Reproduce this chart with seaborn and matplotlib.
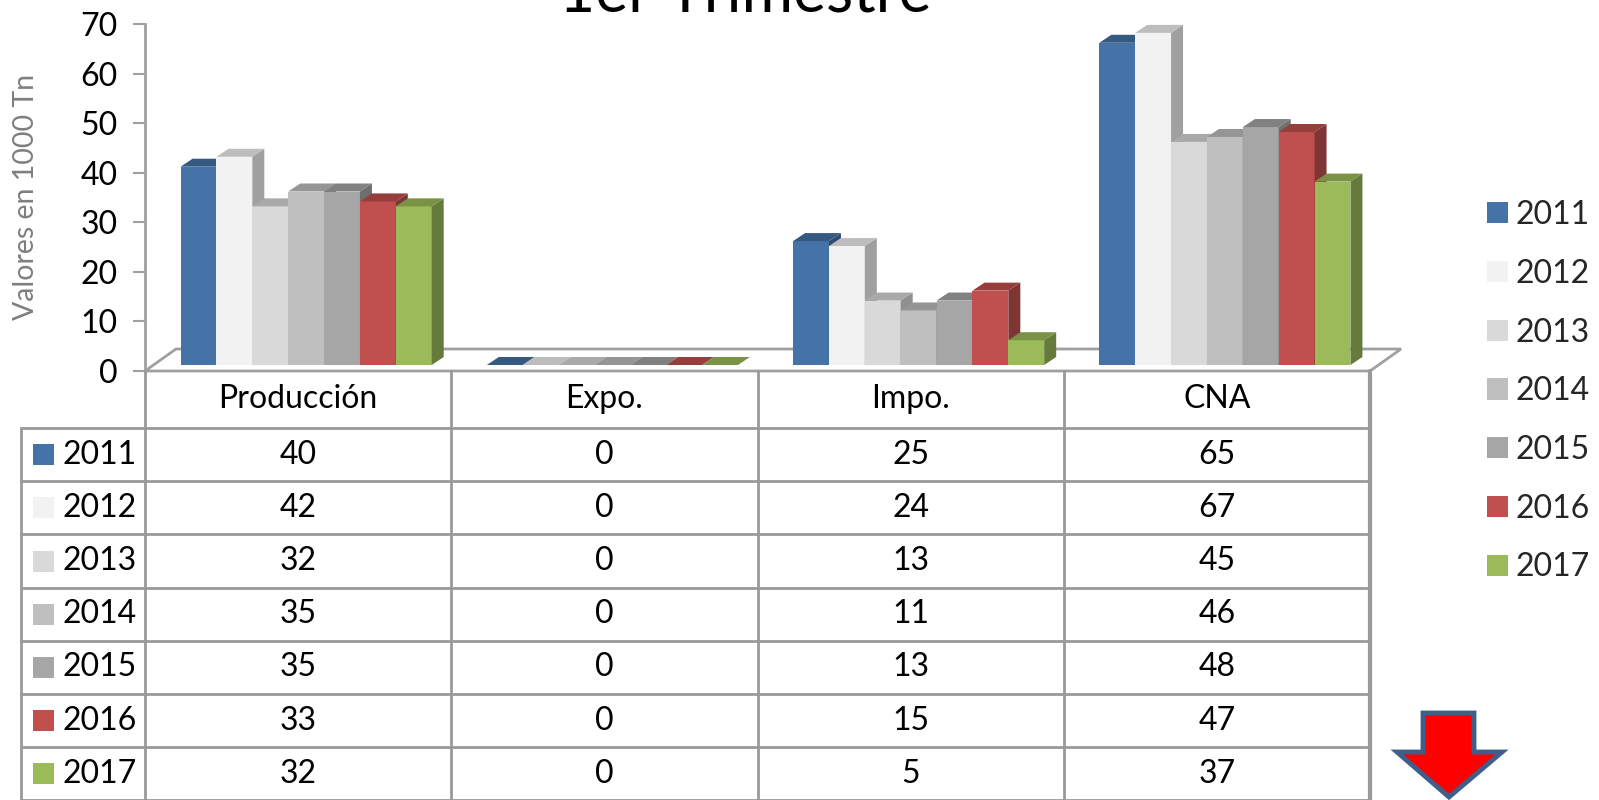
import numpy as np
import pandas as pd
import matplotlib
matplotlib.use("Agg")
import matplotlib.pyplot as plt
import seaborn as sns
from matplotlib.patches import Polygon, Rectangle, Patch
from matplotlib.lines import Line2D
from matplotlib.transforms import blended_transform_factory
import matplotlib.colors as mcolors

# ---------------- data ----------------
categories = ["Producción", "Expo.", "Impo.", "CNA"]
years = ["2011", "2012", "2013", "2014", "2015", "2016", "2017"]
v2011 = [40, 0, 25, 65]
v2012 = [42, 0, 24, 67]
v2013 = [32, 0, 13, 45]
v2014 = [35, 0, 11, 46]
v2015 = [35, 0, 13, 48]
v2016 = [33, 0, 15, 47]
v2017 = [32, 0, 5, 37]
series = [v2011, v2012, v2013, v2014, v2015, v2016, v2017]
colors = ["#4572A7", "#F2F2F2", "#D9D9D9", "#BFBFBF", "#A6A6A6", "#C0504D", "#9BBB59"]
yticks = [0, 10, 20, 30, 40, 50, 60, 70]
title = "1er Trimestre"
ylabel = "Valores en 1000 Tn"

df = pd.DataFrame({
    "Categoria": [c for s in series for c in categories],
    "Año": [y for y, s in zip(years, series) for _ in s],
    "Valor": [v for s in series for v in s],
})

# ---------------- figure ----------------
W, H = 1599, 800
sns.set_theme(style="white")
plt.rcParams['font.family'] = ['Lato', 'DejaVu Sans']
fig = plt.figure(figsize=(W / 100, H / 100), dpi=100)
fig.patch.set_facecolor("white")


def fx(p):
    return p / W


def fy(p):
    return 1 - p / H


X0, X1, Y0, Y70 = 145, 1370, 371, 24
ax = fig.add_axes([fx(X0), fy(Y0), (X1 - X0) / W, (Y0 - Y70) / H])
ax.set_facecolor("none")

sns.barplot(data=df, x="Categoria", y="Valor", hue="Año", order=categories,
            hue_order=years, palette=colors, width=0.82, saturation=1,
            ax=ax, legend=False, linewidth=0, edgecolor="none", errorbar=None)
ax.set_xlim(-0.5, 3.5)
ax.set_ylim(0, 70)

bars = sorted(list(ax.patches), key=lambda p: p.get_x())

# pixel -> data unit conversions
px_x = (X1 - X0) / 4.0
px_y = (Y0 - Y70) / 70.0
off_x, off_y = 8 / px_x, 6 / px_y       # front face offset (3D placement)
dep_x, dep_y = 12 / px_x, 8 / px_y      # bar depth
fl_x, fl_y = 31 / px_x, 22 / px_y       # floor depth

# floor
floor = Polygon([(-0.5, 0), (3.5, 0), (3.5 + fl_x, fl_y), (-0.5 + fl_x, fl_y)],
                closed=True, facecolor="white", edgecolor="#A0A0A0", lw=2,
                zorder=1, clip_on=False)
ax.add_patch(floor)


def shade(c, f):
    r, g, b = mcolors.to_rgb(c)
    return (r * f, g * f, b * f)


for i, p in enumerate(bars):
    x, w, h = p.get_x(), p.get_width(), p.get_height()
    fc = p.get_facecolor()
    z = 3 + i * 0.01
    x0 = x + off_x
    x1 = x + w + off_x
    y0 = off_y
    y1 = h + off_y
    p.set_x(x0)
    p.set_y(y0)
    p.set_zorder(z)
    p.set_clip_on(False)
    side = Polygon([(x1, y0), (x1 + dep_x, y0 + dep_y), (x1 + dep_x, y1 + dep_y), (x1, y1)],
                   closed=True, facecolor=shade(fc, 0.66), edgecolor="none",
                   zorder=z + 0.001, clip_on=False)
    top = Polygon([(x0, y1), (x1, y1), (x1 + dep_x, y1 + dep_y), (x0 + dep_x, y1 + dep_y)],
                  closed=True, facecolor=shade(fc, 0.78), edgecolor="none",
                  zorder=z + 0.002, clip_on=False)
    ax.add_patch(side)
    ax.add_patch(top)

# axis styling
for s in ["top", "right", "bottom"]:
    ax.spines[s].set_visible(False)
ax.spines["left"].set_color("#A0A0A0")
ax.spines["left"].set_linewidth(2)
ax.set_yticks(yticks)
ax.set_yticklabels([str(t) for t in yticks])
ax.tick_params(axis="y", direction="out", length=8.6, width=1.5, color="#A0A0A0",
               pad=11, labelsize=23, labelcolor="black", left=True)
ax.set_xticks([])
ax.set_xlabel("")
ax.set_ylabel("")

fig.text(fx(26), fy(197), ylabel, rotation=90, ha="center", va="center",
         fontsize=20.5, color="#7F7F7F")
fig.text(fx(745), fy(11), title, ha="center", va="baseline", fontsize=45, color="black")

# ---------------- data table ----------------
bt = blended_transform_factory(ax.transData, fig.transFigure)
lc = "#999999"
ROW0, RH = 428, 53.2
nrows = len(years)

for xb in [-0.5, 0.5, 1.5, 2.5, 3.5]:
    fig.add_artist(Line2D([xb, xb], [fy(Y0), fy(H + 2)], transform=bt, color=lc,
                          lw=3 if xb == 3.5 else 2))
fig.add_artist(Line2D([fx(21), fx(21)], [fy(ROW0), fy(H + 2)], transform=fig.transFigure,
                      color=lc, lw=2))
for r in range(nrows + 1):
    yy = fy(ROW0 + r * RH)
    fig.add_artist(Line2D([fx(21), fx(X1)], [yy, yy], transform=fig.transFigure,
                          color=lc, lw=2))

for ci, c in enumerate(categories):
    fig.text(ci, fy((Y0 + ROW0) / 2), c, transform=bt, ha="center", va="center",
             fontsize=23, color="black")

for r, (yr, s, col) in enumerate(zip(years, series, colors)):
    yc = fy(ROW0 + RH * (r + 0.5))
    fig.add_artist(Rectangle((fx(33), yc - 10.5 / H), 21 / W, 21 / H,
                             transform=fig.transFigure, facecolor=col, edgecolor="none"))
    fig.text(fx(63), yc, yr, ha="left", va="center", fontsize=23, color="black")
    for ci, v in enumerate(s):
        fig.text(ci, yc, str(v), transform=bt, ha="center", va="center",
                 fontsize=23, color="black")

# ---------------- legend ----------------
handles = [Patch(facecolor=c, edgecolor="none") for c in colors]
fig.legend(handles, years, loc="upper left", bbox_to_anchor=(fx(1487), fy(200)),
           frameon=False, fontsize=23, handlelength=0.65, handleheight=0.65,
           handletextpad=0.25, labelspacing=0.9, borderpad=0, borderaxespad=0)

# ---------------- red arrow ----------------
arrow_pts = [(1423, 713), (1474, 713), (1474, 752), (1502, 752), (1449, 797),
             (1397, 752), (1423, 752)]
fig.add_artist(Polygon([(fx(a), fy(b)) for a, b in arrow_pts], closed=True,
                       transform=fig.transFigure, facecolor="#FF0000",
                       edgecolor="#3F5F8A", lw=3.5))

fig.savefig("out.png", dpi=100, facecolor="white")
